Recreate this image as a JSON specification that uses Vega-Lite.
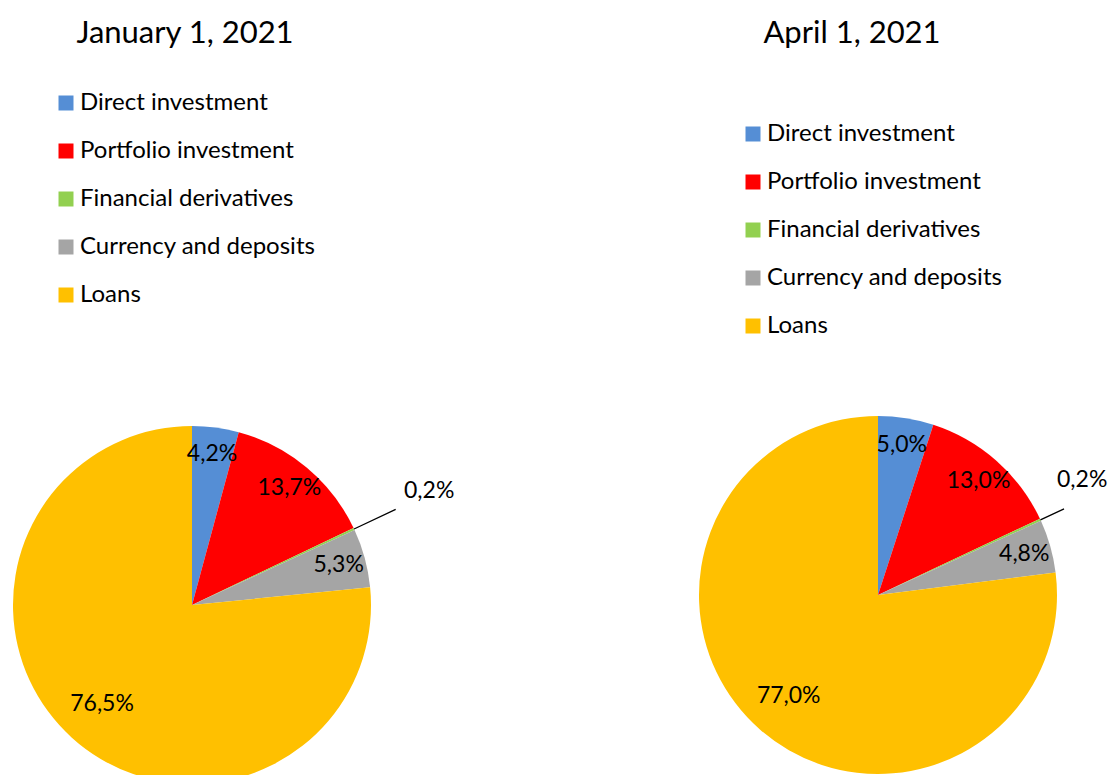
{
  "$schema": "https://vega.github.io/schema/vega-lite/v6.json",
  "background": "white",
  "padding": {"left": 13, "top": 18, "right": 0, "bottom": 0},
  "datasets": {
    "jan": [
      {"cat": "Direct investment", "value": 4.2, "label": "4,2%", "ord": 1},
      {"cat": "Portfolio investment", "value": 13.7, "label": "13,7%", "ord": 2},
      {"cat": "Financial derivatives", "value": 0.2, "label": "0,2%", "ord": 3},
      {"cat": "Currency and deposits", "value": 5.3, "label": "5,3%", "ord": 4},
      {"cat": "Loans", "value": 76.5, "label": "76,5%", "ord": 5}
    ],
    "apr": [
      {"cat": "Direct investment", "value": 5.0, "label": "5,0%", "ord": 1},
      {"cat": "Portfolio investment", "value": 13.0, "label": "13,0%", "ord": 2},
      {"cat": "Financial derivatives", "value": 0.2, "label": "0,2%", "ord": 3},
      {"cat": "Currency and deposits", "value": 4.8, "label": "4,8%", "ord": 4},
      {"cat": "Loans", "value": 77.0, "label": "77,0%", "ord": 5}
    ]
  },
  "config": {
    "view": {"stroke": null},
    "font": "Lato",
    "title": {"font": "Lato", "fontSize": 31, "fontWeight": "normal", "color": "black"},
    "text": {"font": "Lato", "fontSize": 23, "color": "black"},
    "legend": {
      "title": null,
      "labelFont": "Lato",
      "labelFontSize": 24,
      "labelColor": "black",
      "labelLimit": 0,
      "symbolType": "square",
      "symbolSize": 225,
      "symbolStrokeWidth": 0,
      "symbolOpacity": 1,
      "labelOffset": 2,
      "rowPadding": 24,
      "padding": 0,
      "offset": 0
    }
  },
  "resolve": {"scale": {"color": "independent"}, "legend": {"color": "independent"}},
  "spacing": 328,
  "bounds": "flush",
  "hconcat": [
    {
      "width": 358,
      "height": 358,
      "title": {"text": "January 1, 2021", "dx": -7, "offset": 41},
      "data": {"name": "jan"},
      "layer": [
        {
          "mark": {"type": "arc", "radius": 179},
          "encoding": {
            "theta": {"field": "value", "type": "quantitative", "stack": true},
            "order": {"field": "ord", "type": "quantitative"},
            "color": {
              "field": "cat", "type": "nominal",
              "scale": {
                "domain": ["Direct investment", "Portfolio investment", "Financial derivatives", "Currency and deposits", "Loans"],
                "range": ["#558ED5", "#FF0000", "#92D050", "#A5A5A5", "#FFC000"]
              },
              "legend": {"orient": "none", "legendX": 41, "legendY": -335}
            }
          }
        },
        {
          "transform": [
            {"stack": "value", "groupby": [], "sort": [{"field": "ord", "order": "ascending"}], "as": ["v0", "v1"]},
            {"filter": "datum.cat === 'Financial derivatives'"}
          ],
          "mark": {"type": "arc", "radius": 225, "radius2": 179, "padAngle": 0.06, "fill": null, "stroke": "black", "strokeWidth": 1.3},
          "encoding": {
            "theta": {"field": "v0", "type": "quantitative", "stack": null},
            "theta2": {"field": "v1"}
          }
        },
        {
          "mark": {"type": "text", "radius": 152},
          "encoding": {
            "theta": {"field": "value", "type": "quantitative", "stack": true},
            "order": {"field": "ord", "type": "quantitative"},
            "detail": {"field": "cat", "type": "nominal"},
            "text": {"condition": {"test": "datum.cat !== 'Financial derivatives' && datum.cat !== 'Loans'", "field": "label", "type": "nominal"}, "value": ""}
          }
        },
        {
          "mark": {"type": "text", "radius": 134},
          "encoding": {
            "theta": {"field": "value", "type": "quantitative", "stack": true},
            "order": {"field": "ord", "type": "quantitative"},
            "detail": {"field": "cat", "type": "nominal"},
            "text": {"condition": {"test": "datum.cat === 'Loans'", "field": "label", "type": "nominal"}, "value": ""}
          }
        },
        {
          "mark": {"type": "text", "radius": 262, "dy": -3},
          "encoding": {
            "theta": {"field": "value", "type": "quantitative", "stack": true},
            "order": {"field": "ord", "type": "quantitative"},
            "detail": {"field": "cat", "type": "nominal"},
            "text": {"condition": {"test": "datum.cat === 'Financial derivatives'", "field": "label", "type": "nominal"}, "value": ""}
          }
        }
      ]
    },
    {
      "width": 358,
      "height": 338,
      "title": {"text": "April 1, 2021", "dx": -26, "offset": 72},
      "data": {"name": "apr"},
      "layer": [
        {
          "mark": {"type": "arc", "radius": 179},
          "encoding": {
            "theta": {"field": "value", "type": "quantitative", "stack": true},
            "order": {"field": "ord", "type": "quantitative"},
            "color": {
              "field": "cat", "type": "nominal",
              "scale": {
                "domain": ["Direct investment", "Portfolio investment", "Financial derivatives", "Currency and deposits", "Loans"],
                "range": ["#558ED5", "#FF0000", "#92D050", "#A5A5A5", "#FFC000"]
              },
              "legend": {"orient": "none", "legendX": 42, "legendY": -304}
            }
          }
        },
        {
          "transform": [
            {"stack": "value", "groupby": [], "sort": [{"field": "ord", "order": "ascending"}], "as": ["v0", "v1"]},
            {"filter": "datum.cat === 'Financial derivatives'"}
          ],
          "mark": {"type": "arc", "radius": 205, "radius2": 179, "padAngle": 0.06, "fill": null, "stroke": "black", "strokeWidth": 1.3},
          "encoding": {
            "theta": {"field": "v0", "type": "quantitative", "stack": null},
            "theta2": {"field": "v1"}
          }
        },
        {
          "mark": {"type": "text", "radius": 152},
          "encoding": {
            "theta": {"field": "value", "type": "quantitative", "stack": true},
            "order": {"field": "ord", "type": "quantitative"},
            "detail": {"field": "cat", "type": "nominal"},
            "text": {"condition": {"test": "datum.cat !== 'Financial derivatives' && datum.cat !== 'Loans'", "field": "label", "type": "nominal"}, "value": ""}
          }
        },
        {
          "mark": {"type": "text", "radius": 135},
          "encoding": {
            "theta": {"field": "value", "type": "quantitative", "stack": true},
            "order": {"field": "ord", "type": "quantitative"},
            "detail": {"field": "cat", "type": "nominal"},
            "text": {"condition": {"test": "datum.cat === 'Loans'", "field": "label", "type": "nominal"}, "value": ""}
          }
        },
        {
          "mark": {"type": "text", "radius": 225, "dy": -20},
          "encoding": {
            "theta": {"field": "value", "type": "quantitative", "stack": true},
            "order": {"field": "ord", "type": "quantitative"},
            "detail": {"field": "cat", "type": "nominal"},
            "text": {"condition": {"test": "datum.cat === 'Financial derivatives'", "field": "label", "type": "nominal"}, "value": ""}
          }
        }
      ]
    }
  ]
}
